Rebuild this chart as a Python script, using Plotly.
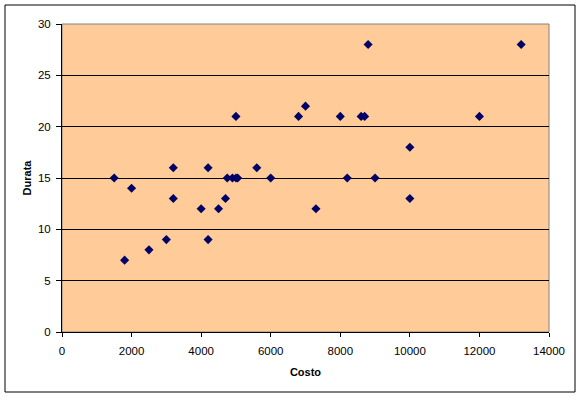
import plotly.graph_objects as go

costo = [1500, 2000, 3200, 4200, 4750, 4900, 5000, 5050, 5600, 6000,
         3200, 4000, 4500, 4700, 3000, 4200, 2500, 1800,
         8800, 7000, 6800, 8000, 8600, 8700, 10000, 8200, 9000, 10000, 7300,
         13200, 12000, 5000]
durata = [15, 14, 16, 16, 15, 15, 15, 15, 16, 15,
          13, 12, 12, 13, 9, 9, 8, 7,
          28, 22, 21, 21, 21, 21, 18, 15, 15, 13, 12,
          28, 21, 21]

x_ticks = [0, 2000, 4000, 6000, 8000, 10000, 12000, 14000]
y_ticks = [0, 5, 10, 15, 20, 25, 30]

W, H = 582, 398
L, R, T, B = 62, 549, 24, 332
pw, ph = R - L, B - T

fig = go.Figure()
fig.add_trace(go.Scatter(
    x=costo, y=durata, mode="markers",
    marker=dict(symbol="diamond", size=7, color="#000066"),
    showlegend=False, hoverinfo="x+y",
))

font = dict(family="Liberation Sans, Arial, sans-serif", size=11.5, color="black")
tfont = dict(family="Liberation Sans, Arial, sans-serif", size=11, color="black")

fig.update_layout(
    width=W, height=H,
    margin=dict(l=L, r=W - R, t=T, b=H - B, pad=0),
    paper_bgcolor="white",
    plot_bgcolor="#FFCC99",
    font=font,
    xaxis=dict(
        range=[0, 14000], tickvals=x_ticks, ticktext=[str(v) for v in x_ticks],
        showgrid=False, zeroline=False,
        showline=True, linecolor="black", linewidth=1,
        ticks="outside", ticklen=4, tickcolor="black", tickwidth=1,
        tickfont=font, ticklabelstandoff=4,
        title=dict(text="<b>Costo</b>", font=tfont, standoff=12),
    ),
    yaxis=dict(
        range=[0, 30], tickvals=y_ticks, ticktext=[str(v) for v in y_ticks],
        showgrid=True, gridcolor="black", gridwidth=1, zeroline=False,
        showline=True, linecolor="black", linewidth=1,
        ticks="outside", ticklen=5, tickcolor="black", tickwidth=1,
        tickfont=font, ticklabelstandoff=3,
        title=dict(text="<b>Durata</b>", font=tfont, standoff=4),
    ),
    shapes=[
        dict(type="rect", xref="paper", yref="paper", x0=0, x1=1, y0=0, y1=1,
             line=dict(color="#808080", width=1), fillcolor="rgba(0,0,0,0)", layer="below"),
        dict(type="rect", xref="paper", yref="paper",
             x0=(5 - L) / pw, x1=(575 - L) / pw,
             y0=(B - 392) / ph, y1=(B - 5) / ph,
             line=dict(color="black", width=1), fillcolor="rgba(0,0,0,0)"),
    ],
)

fig.write_html("out.html", config={"displayModeBar": False},
               post_script="document.body.style.margin='0';document.body.style.overflow='hidden';")
